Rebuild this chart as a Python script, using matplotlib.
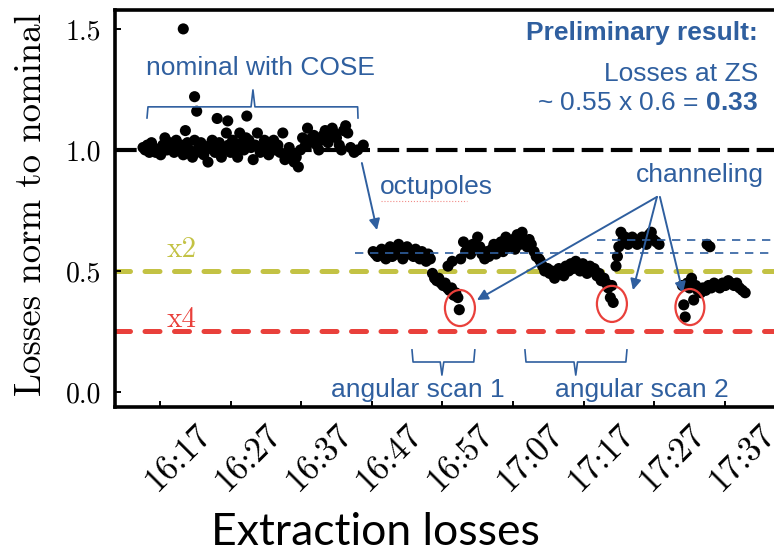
import matplotlib.pyplot as plt
import matplotlib.transforms as mtransforms
from matplotlib.patches import Ellipse

# time in minutes after 16:00, losses normalised to the nominal cycle
nom_t = [14.6, 14.9, 15.2, 15.5, 15.8, 16.1, 16.4, 16.8, 17.1, 17.4, 17.7, 18.0,
         18.4, 18.7, 19.0, 19.3, 19.6, 20.0, 20.3, 20.6, 20.9, 21.2, 21.6, 21.9,
         22.2, 22.5, 22.8, 23.2, 23.5, 23.8, 24.1, 24.4, 24.8, 25.1, 25.4, 25.7,
         26.0, 26.4, 26.7, 27.0, 27.3, 27.6, 28.0, 28.3, 28.6, 28.9, 29.2, 29.6,
         29.9, 30.2, 30.5, 30.8, 31.2, 31.5, 31.8, 32.1, 32.4, 32.8, 33.1, 33.4,
         33.7, 34.0, 34.4, 34.7, 35.0, 35.3, 35.6, 36.0, 36.3, 36.6, 36.9, 37.2,
         37.6, 37.9, 38.2, 38.5, 38.8, 39.2, 39.5, 39.8, 40.1, 40.4, 40.8, 41.1,
         41.4, 41.7, 42.0, 42.4, 42.7, 43.0, 43.3, 43.6, 44.0, 44.5, 45.0, 45.8]
nom_v = [1.01, 1.00, 1.02, 0.99, 1.03, 1.01, 0.99, 1.00, 0.98, 1.02, 1.05, 1.00,
         1.03, 1.01, 0.99, 1.04, 1.00, 1.02, 0.98, 1.08, 1.03, 1.00, 0.97, 1.04,
         0.99, 1.01, 1.03, 0.98, 1.00, 0.95, 1.02, 1.04, 0.99, 1.01, 1.03, 0.97,
         1.00, 1.07, 1.02, 0.99, 1.04, 1.01, 0.97, 1.07, 1.03, 1.00, 1.05, 1.04,
         1.01, 0.96, 1.02, 1.07, 0.99, 1.01, 1.04, 1.02, 0.98, 1.03, 1.04, 1.00,
         1.02, 0.99, 1.07, 0.96, 0.98, 1.01, 0.98, 0.95, 0.97, 0.93, 1.00, 1.05,
         1.02, 1.09, 1.03, 1.05, 1.06, 1.02, 1.00, 1.04, 1.06, 1.08, 1.03, 1.05,
         1.09, 1.07, 1.05, 1.02, 1.00, 1.08, 1.10, 1.07, 1.01, 0.99, 1.00, 1.02]

spike_t = [20.3, 21.9, 22.2, 25.1, 26.6, 29.3]
spike_v = [1.50, 1.22, 1.16, 1.13, 1.12, 1.14]

oct_t = [47.2, 47.5, 47.8, 48.1, 48.4, 48.7, 49.0, 49.3, 49.6, 49.9, 50.2, 50.5,
         50.8, 51.1, 51.4, 51.7, 52.0, 52.3, 52.6, 52.9, 53.2, 53.5, 53.8, 54.1,
         54.4, 54.7, 55.0, 55.3]
oct_v = [0.58, 0.57, 0.56, 0.58, 0.59, 0.57, 0.55, 0.58, 0.60, 0.56, 0.59, 0.57,
         0.61, 0.58, 0.55, 0.59, 0.60, 0.57, 0.58, 0.56, 0.59, 0.57, 0.55, 0.58,
         0.56, 0.54, 0.57, 0.55]

scan1_t = [55.6, 55.9, 56.2, 56.5, 56.8, 57.1, 57.4, 57.7, 58.0, 58.3, 58.6,
           58.9, 59.2, 59.4]
scan1_v = [0.49, 0.47, 0.46, 0.47, 0.45, 0.44, 0.45, 0.43, 0.42, 0.43, 0.40,
           0.41, 0.39, 0.34]

rise_t = [57.8, 58.4, 59.6, 60.0, 60.3, 60.6, 61.0, 61.3, 61.6, 62.0, 62.3, 62.6,
          63.0, 63.3, 63.6, 64.0, 64.3, 64.6, 65.0, 65.3, 65.6, 66.0, 66.3, 66.6,
          67.0, 67.3, 67.6, 68.0, 68.3, 68.6, 69.0, 69.3, 69.6, 70.0, 70.3, 70.7]
rise_v = [0.52, 0.54, 0.55, 0.62, 0.58, 0.60, 0.57, 0.61, 0.59, 0.64, 0.60, 0.57,
          0.55, 0.58, 0.56, 0.59, 0.61, 0.57, 0.60, 0.62, 0.58, 0.64, 0.60, 0.62,
          0.63, 0.59, 0.65, 0.61, 0.66, 0.62, 0.60, 0.63, 0.61, 0.58, 0.56, 0.55]

scan2_t = [70.9, 71.2, 71.5, 71.9, 72.2, 72.5, 72.9, 73.2, 73.5, 73.9, 74.2,
           74.5, 74.9, 75.2, 75.5, 75.9, 76.2, 76.5, 76.9, 77.2, 77.5, 77.9,
           78.2, 78.5, 78.9, 79.2, 79.5, 79.9, 80.2, 80.5, 80.8, 81.0, 81.2]
scan2_v = [0.54, 0.52, 0.50, 0.51, 0.49, 0.50, 0.47, 0.49, 0.51, 0.50, 0.48,
           0.52, 0.50, 0.53, 0.51, 0.54, 0.52, 0.50, 0.53, 0.51, 0.49, 0.52,
           0.50, 0.51, 0.48, 0.49, 0.46, 0.47, 0.45, 0.43, 0.39, 0.44, 0.37]

chan_t = [81.6, 81.8, 82.0, 82.3, 82.6, 82.9, 83.3, 83.6, 83.9, 84.3, 84.6,
          84.9, 85.3, 85.6, 85.9, 86.3, 86.6, 86.9, 87.3, 87.7]
chan_v = [0.52, 0.56, 0.60, 0.66, 0.63, 0.64, 0.61, 0.62, 0.64, 0.63, 0.61,
          0.62, 0.64, 0.63, 0.61, 0.65, 0.66, 0.63, 0.62, 0.61]

late_t = [91.0, 91.2, 91.4, 91.7, 92.0, 92.3, 92.6, 92.9, 93.2, 93.6, 93.9,
          94.3, 94.5, 94.7, 94.9, 95.1, 95.5, 95.9, 96.3, 96.7, 97.1, 97.5,
          97.9, 98.3, 98.7, 99.1, 99.5, 99.9]
late_v = [0.44, 0.36, 0.31, 0.45, 0.43, 0.47, 0.38, 0.44, 0.42, 0.41, 0.43,
          0.42, 0.61, 0.44, 0.60, 0.43, 0.45, 0.44, 0.43, 0.45, 0.44, 0.46,
          0.45, 0.44, 0.45, 0.43, 0.42, 0.41]

tick_pos = [17, 27, 37, 47, 57, 67, 77, 87, 97]
tick_lab = ['16:17', '16:27', '16:37', '16:47', '16:57',
            '17:07', '17:17', '17:27', '17:37']

BLUE = '#2f5f9f'
OLIVE = '#c3c244'
RED = '#e9403b'
SANS = 'Liberation Sans'

plt.rcParams['font.family'] = 'cmr10'
plt.rcParams['axes.formatter.use_mathtext'] = True
plt.rcParams['mathtext.fontset'] = 'custom'
plt.rcParams['mathtext.rm'] = 'Liberation Sans'
plt.rcParams['mathtext.bf'] = 'Liberation Sans:bold'

fig = plt.figure(figsize=(7.74, 5.54), dpi=100)
ax = fig.add_axes([0.1486, 0.2653, 0.872, 0.7166])
ax.set_xlim(10.63, 106.24)
ax.set_ylim(-0.062, 1.578)

# reference levels
ax.axhline(1.0, color='black', lw=3, ls=(0, (5.2, 1.8)), dash_capstyle='butt', zorder=1)
ax.axhline(0.5, color=OLIVE, lw=3.6, ls=(0, (3.0, 2.9)), dash_capstyle='round', zorder=1)
ax.axhline(0.25, color=RED, lw=3.6, ls=(0, (3.0, 2.9)), dash_capstyle='round', zorder=1)
ax.plot([44.6, 106.24], [0.575, 0.575], color=BLUE, lw=1.2, ls=(0, (5, 4)), zorder=3)
ax.plot([78.9, 106.24], [0.628, 0.628], color=BLUE, lw=1.2, ls=(0, (5, 4)), zorder=3)

for t, v in [(nom_t, nom_v), (spike_t, spike_v), (oct_t, oct_v), (scan1_t, scan1_v),
             (rise_t, rise_v), (scan2_t, scan2_v), (chan_t, chan_v), (late_t, late_v)]:
    assert len(t) == len(v)
    ax.scatter(t, v, s=64, color='black', edgecolors='none', zorder=2)

ax.text(20.1, 0.587, 'x2', color=OLIVE, fontsize=21, ha='center', va='center')
ax.text(20.1, 0.298, 'x4', color=RED, fontsize=21, ha='center', va='center')

# channeling candidates
for cx, cy, w in [(59.49, 0.347, 4.25), (81.02, 0.364, 4.25), (92.07, 0.351, 4.1)]:
    ax.add_patch(Ellipse((cx, cy), w, 0.149, fill=False, edgecolor=RED, lw=1.6, zorder=4))

# braces
ax.plot([15.16, 15.3, 29.9, 30.17, 30.45, 45.0, 45.05],
        [1.132, 1.178, 1.178, 1.248, 1.178, 1.178, 1.132], color=BLUE, lw=1.2)
ax.plot([52.7, 52.85, 56.7, 56.94, 57.2, 61.45, 61.6],
        [0.174, 0.124, 0.124, 0.07, 0.124, 0.124, 0.174], color=BLUE, lw=1.2)
ax.plot([68.7, 68.85, 75.65, 75.9, 76.15, 83.0, 83.15],
        [0.174, 0.124, 0.124, 0.07, 0.124, 0.124, 0.174], color=BLUE, lw=1.2)

ax.text(31.2, 1.339, 'nominal with COSE', color=BLUE, fontsize=19, family=SANS,
        ha='center', va='center')
ax.text(48.2, 0.847, 'octupoles', color=BLUE, fontsize=19, family=SANS,
        ha='left', va='center')
ax.plot([48.3, 60.5], [0.79, 0.79], color=RED, lw=0.8, ls=':', alpha=0.6)
ax.text(93.5, 0.897, 'channeling', color=BLUE, fontsize=19, family=SANS,
        ha='center', va='center')
ax.text(53.5, 0.008, 'angular scan 1', color=BLUE, fontsize=19, family=SANS,
        ha='center', va='center')
ax.text(85.3, 0.008, 'angular scan 2', color=BLUE, fontsize=19, family=SANS,
        ha='center', va='center')
ax.text(101.7, 1.483, 'Preliminary result:', color=BLUE, fontsize=19, family=SANS,
        weight='bold', ha='right', va='center')
ax.text(101.7, 1.314, 'Losses at ZS', color=BLUE, fontsize=19, family=SANS,
        ha='right', va='center')
ax.text(101.7, 1.194, r'~ 0.55 x 0.6 = $\mathbf{0.33}$', color=BLUE, fontsize=19,
        family=SANS, ha='right', va='center')

arrow = dict(arrowstyle='-|>', color=BLUE, lw=1.4, mutation_scale=16,
             shrinkA=0, shrinkB=0)
ax.annotate('', xy=(47.74, 0.669), xytext=(45.6, 0.946), arrowprops=arrow)
ax.annotate('', xy=(61.9, 0.38), xytext=(87.4, 0.806), arrowprops=arrow)
ax.annotate('', xy=(84.0, 0.421), xytext=(87.4, 0.806), arrowprops=arrow)
ax.annotate('', xy=(91.08, 0.409), xytext=(87.82, 0.806), arrowprops=arrow)

ax.set_yticks([0.0, 0.5, 1.0, 1.5])
ax.set_yticklabels(['0.0', '0.5', '1.0', '1.5'])
ax.set_xticks(tick_pos)
ax.set_xticklabels(tick_lab, rotation=45, ha='right', va='top', rotation_mode='anchor')
ax.tick_params(direction='in', length=4, width=1.4, labelsize=20)
ax.tick_params(axis='x', labelsize=25, pad=8)
ax.tick_params(axis='y', pad=10)
for sp in ax.spines.values():
    sp.set_linewidth(2.6)

# time labels sit half a step to the right of their ticks
shift = mtransforms.ScaledTranslation(35 / 100, 0, fig.dpi_scale_trans)
for lab in ax.get_xticklabels():
    lab.set_transform(lab.get_transform() + shift)

ax.set_ylabel('Losses norm to nominal', fontsize=26.5)
ax.yaxis.set_label_coords(-0.100, 0.509)

fig.text(0.4845, 0.016, 'Extraction losses', fontsize=32, family='Lato',
         ha='center', va='baseline')

fig.savefig('out.png', dpi=100)
